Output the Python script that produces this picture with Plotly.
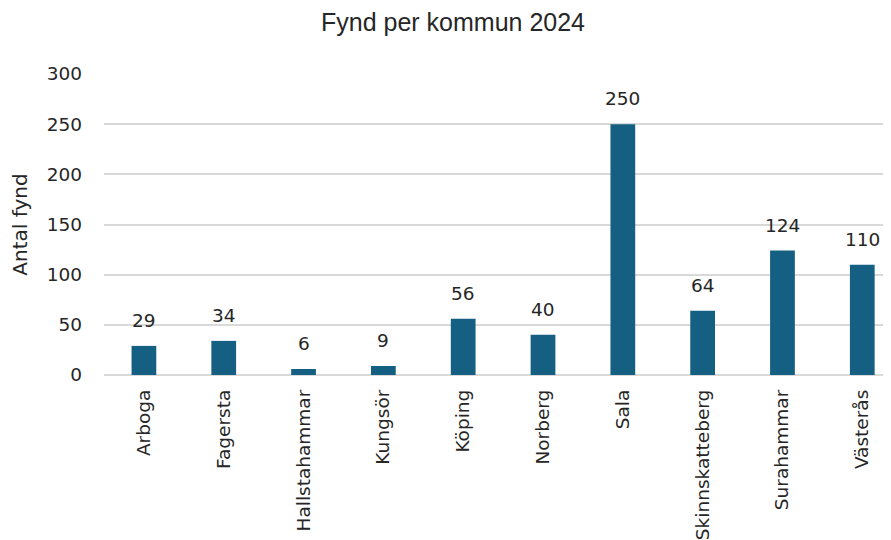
import plotly.graph_objects as go

kommuner = ["Arboga", "Fagersta", "Hallstahammar", "Kungsör", "Köping",
            "Norberg", "Sala", "Skinnskatteberg", "Surahammar", "Västerås"]
fynd = [29, 34, 6, 9, 56, 40, 250, 64, 124, 110]
y_ticks = [0, 50, 100, 150, 200, 250, 300]

FONT = "DejaVu Sans, Liberation Sans, Arial, sans-serif"
TXT = "#262626"

fig = go.Figure(go.Bar(
    x=kommuner, y=fynd, marker=dict(color="#156082", line=dict(width=0)),
    hoverinfo="x+y", cliponaxis=False,
))

for k, v in zip(kommuner, fynd):
    fig.add_annotation(x=k, y=v, text=str(v), showarrow=False,
                       yanchor="bottom", yshift=13,
                       font=dict(family=FONT, size=18.5, color=TXT))

W, H = 891, 532
fig.update_layout(
    width=W, height=H,
    margin=dict(l=96, r=0, t=66, b=165, autoexpand=False),
    paper_bgcolor="white", plot_bgcolor="white",
    bargap=0.69,
    showlegend=False,
    title=dict(text="Fynd per kommun 2024", x=445 / W, xref="container", xanchor="center",
               y=1 - 14/H, yref="container", yanchor="middle",
               font=dict(family="Liberation Sans, Arial", size=25, color=TXT)),
    xaxis=dict(range=[-0.5, 9.46], tickangle=-90, showgrid=False, automargin=False,
               tickfont=dict(family=FONT, size=18.5, color=TXT),
               ticks="", ticklabelstandoff=10, showline=False, zeroline=False),
    yaxis=dict(range=[0, 300], tickvals=y_ticks, showgrid=True, automargin=False,
               gridcolor="#d9d9d9", gridwidth=1.5, zeroline=True,
               zerolinecolor="#d9d9d9", zerolinewidth=1.5,
               tickfont=dict(family=FONT, size=18.5, color=TXT),
               ticks="", ticklabelstandoff=21,
               title=dict(text="Antal fynd", standoff=15,
                          font=dict(family=FONT, size=20, color=TXT))),
)

fig.write_html("out.html")
